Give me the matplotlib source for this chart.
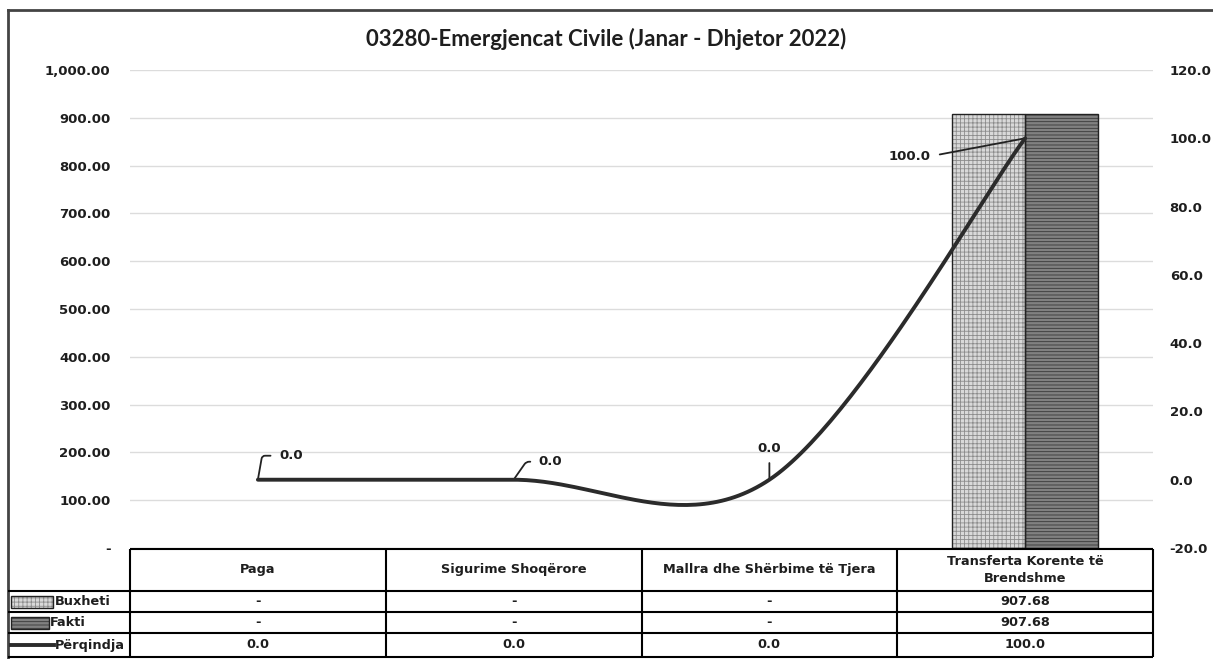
import numpy as np
import matplotlib

matplotlib.use("Agg")
import matplotlib.pyplot as plt
from matplotlib.patches import Rectangle

# data
categories = ["Paga", "Sigurime Shoqërore", "Mallra dhe Shërbime të Tjera",
              "Transferta Korente të\nBrendshme"]
buxheti = [0.0, 0.0, 0.0, 907.68]
fakti = [0.0, 0.0, 0.0, 907.68]
perqindja = [0.0, 0.0, 0.0, 100.0]
left_ticks = [0, 100, 200, 300, 400, 500, 600, 700, 800, 900, 1000]
right_ticks = [-20, 0, 20, 40, 60, 80, 100, 120]
title = "03280-Emergjencat Civile (Janar - Dhjetor 2022)"

W, H = 1213, 659
PL, PR, PT, PB = 130, 1153, 70, 548
ROWS = [549, 591, 612, 633, 657]
FRAME_X, FRAME_Y = 8, 10

BUX_FACE, BUX_HATCH = "#d9d9d9", "#8c8c8c"
FAK_FACE, FAK_HATCH = "#808080", "#383838"
LINE_C = "#2b2b2b"
TXT_C = "#1e1e1e"

plt.rcParams["font.family"] = "DejaVu Sans"
plt.rcParams["hatch.linewidth"] = 0.6


def fmt_val(v):
    return "-" if v == 0 else f"{v:,.2f}"


def excel_smooth(xs, ys, n=60):
    # bezier smoothing the way excel draws "smoothed line"
    pts = np.column_stack([xs, ys]).astype(float)
    ext = np.vstack([pts[0], pts, pts[-1]])
    out = []
    t = np.linspace(0, 1, n)[:, None]
    for i in range(len(pts) - 1):
        p0, p1, p2, p3 = ext[i], ext[i + 1], ext[i + 2], ext[i + 3]
        c1 = p1 + (p2 - p0) / 6
        c2 = p2 - (p3 - p1) / 6
        seg = ((1 - t) ** 3) * p1 + 3 * ((1 - t) ** 2) * t * c1 + 3 * (1 - t) * t**2 * c2 + t**3 * p2
        out.append(seg)
    seg = np.vstack(out)
    return seg[:, 0], seg[:, 1]


fig = plt.figure(figsize=(W / 100, H / 100), dpi=100)
ax = fig.add_axes([PL / W, 1 - PB / H, (PR - PL) / W, (PB - PT) / H])
ax2 = ax.twinx()

x = np.arange(len(categories))
bw = 0.285
for off, vals, face, hcol, hatch in [(-bw / 2, buxheti, BUX_FACE, BUX_HATCH, "++++"),
                                     (bw / 2, fakti, FAK_FACE, FAK_HATCH, "-----")]:
    vals = np.asarray(vals)
    keep = vals != 0
    ax.bar(x[keep] + off, vals[keep], bw, color=face, edgecolor=hcol, hatch=hatch, lw=0, zorder=2)
    ax.bar(x[keep] + off, vals[keep], bw, fill=False, edgecolor="#222222", lw=1.0, zorder=3)

ax.set_xlim(-0.5, len(categories) - 0.5)
ax.set_ylim(0, 1000)
ax.set_yticks(left_ticks)
ax.set_yticklabels([fmt_val(v) for v in left_ticks])
ax.yaxis.grid(True, color="#dcdcdc", lw=1)
ax.set_axisbelow(True)
ax.set_xticks([])
ax.tick_params(axis="y", length=0, pad=14, labelsize=9.5)
for lab in ax.get_yticklabels():
    lab.set_fontweight("bold")
    lab.set_color(TXT_C)

sx, sy = excel_smooth(x, perqindja)
ax2.plot(sx, sy, color=LINE_C, lw=2.8, solid_capstyle="round", zorder=4)
ax2.set_ylim(-20, 120)
ax2.set_yticks(right_ticks)
ax2.set_yticklabels([f"{v:.1f}" for v in right_ticks])
ax2.tick_params(axis="y", length=0, pad=12, labelsize=9.5)
for lab in ax2.get_yticklabels():
    lab.set_fontweight("bold")
    lab.set_color(TXT_C)

for a in (ax, ax2):
    for s in a.spines.values():
        s.set_visible(False)

# data labels with leader lines
lab_style = dict(fontsize=9.5, fontweight="bold", color=TXT_C, textcoords="offset pixels")
leader = dict(arrowstyle="-", color="#222222", lw=1.3, shrinkB=0)
ax2.annotate(f"{perqindja[0]:.1f}", (x[0], perqindja[0]), xytext=(21, 24), ha="left", va="center",
             arrowprops=dict(leader, connectionstyle="angle,angleA=0,angleB=80,rad=3",
                             relpos=(0, 0.5), shrinkA=4), **lab_style)
ax2.annotate(f"{perqindja[1]:.1f}", (x[1], perqindja[1]), xytext=(25, 18), ha="left", va="center",
             arrowprops=dict(leader, connectionstyle="angle,angleA=0,angleB=55,rad=3",
                             relpos=(0, 0.5), shrinkA=4), **lab_style)
ax2.annotate(f"{perqindja[2]:.1f}", (x[2], perqindja[2]), xytext=(0, 25), ha="center", va="bottom",
             arrowprops=dict(leader, relpos=(0.5, 0), shrinkA=4), **lab_style)
ax2.annotate(f"{perqindja[3]:.1f}", (x[3], perqindja[3]), xytext=(-95, -18), ha="right", va="center",
             arrowprops=dict(leader, relpos=(1, 0.5), shrinkA=5), **lab_style)

# overlay in pixel space for frame and data table
ov = fig.add_axes([0, 0, 1, 1], zorder=5)
ov.set_xlim(0, W)
ov.set_ylim(H, 0)
ov.axis("off")
ov.patch.set_alpha(0)

ov.plot([FRAME_X, W], [FRAME_Y, FRAME_Y], color="#444444", lw=2)
ov.plot([FRAME_X, FRAME_X], [FRAME_Y, H], color="#444444", lw=2)

tkw = dict(color="black", lw=1.5, solid_capstyle="butt")
colw = (PR - PL) / len(categories)
ov.plot([PL, PR], [ROWS[0], ROWS[0]], **tkw)
for yy in ROWS[1:]:
    ov.plot([FRAME_X, PR], [yy, yy], **tkw)
for i in range(len(categories) + 1):
    ov.plot([PL + i * colw] * 2, [ROWS[0], ROWS[-1]], **tkw)

cell_kw = dict(ha="center", va="center", fontsize=9.3, fontweight="bold", color=TXT_C)
for i, cat in enumerate(categories):
    cx = PL + (i + 0.5) * colw
    ov.text(cx, (ROWS[0] + ROWS[1]) / 2, cat, linespacing=1.4, **cell_kw)
    ov.text(cx, (ROWS[1] + ROWS[2]) / 2, fmt_val(buxheti[i]), **cell_kw)
    ov.text(cx, (ROWS[2] + ROWS[3]) / 2, fmt_val(fakti[i]), **cell_kw)
    ov.text(cx, (ROWS[3] + ROWS[4]) / 2, f"{perqindja[i]:.1f}", **cell_kw)

# row headers with legend keys
r1 = (ROWS[1] + ROWS[2]) / 2
r2 = (ROWS[2] + ROWS[3]) / 2
r3 = (ROWS[3] + ROWS[4]) / 2
ov.add_patch(Rectangle((11, r1 - 6), 42, 12, facecolor=BUX_FACE, edgecolor=BUX_HATCH, hatch="++++", lw=0))
ov.add_patch(Rectangle((11, r1 - 6), 42, 12, fill=False, edgecolor="#222222", lw=1))
ov.add_patch(Rectangle((11, r2 - 6), 38, 12, facecolor=FAK_FACE, edgecolor=FAK_HATCH, hatch="-----", lw=0))
ov.add_patch(Rectangle((11, r2 - 6), 38, 12, fill=False, edgecolor="#222222", lw=1))
ov.plot([11, 54], [r3, r3], color=LINE_C, lw=2.8)
rkw = dict(ha="left", va="center", fontsize=9.3, fontweight="bold", color=TXT_C)
ov.text(55, r1, "Buxheti", **rkw)
ov.text(50, r2, "Fakti", **rkw)
ov.text(55, r3, "Përqindja", **rkw)

fig.text(0.5, 1 - 39 / H, title, ha="center", va="center", fontsize=16, fontweight="bold",
         family="Lato", color=TXT_C)

fig.savefig("out.png", dpi=100)
